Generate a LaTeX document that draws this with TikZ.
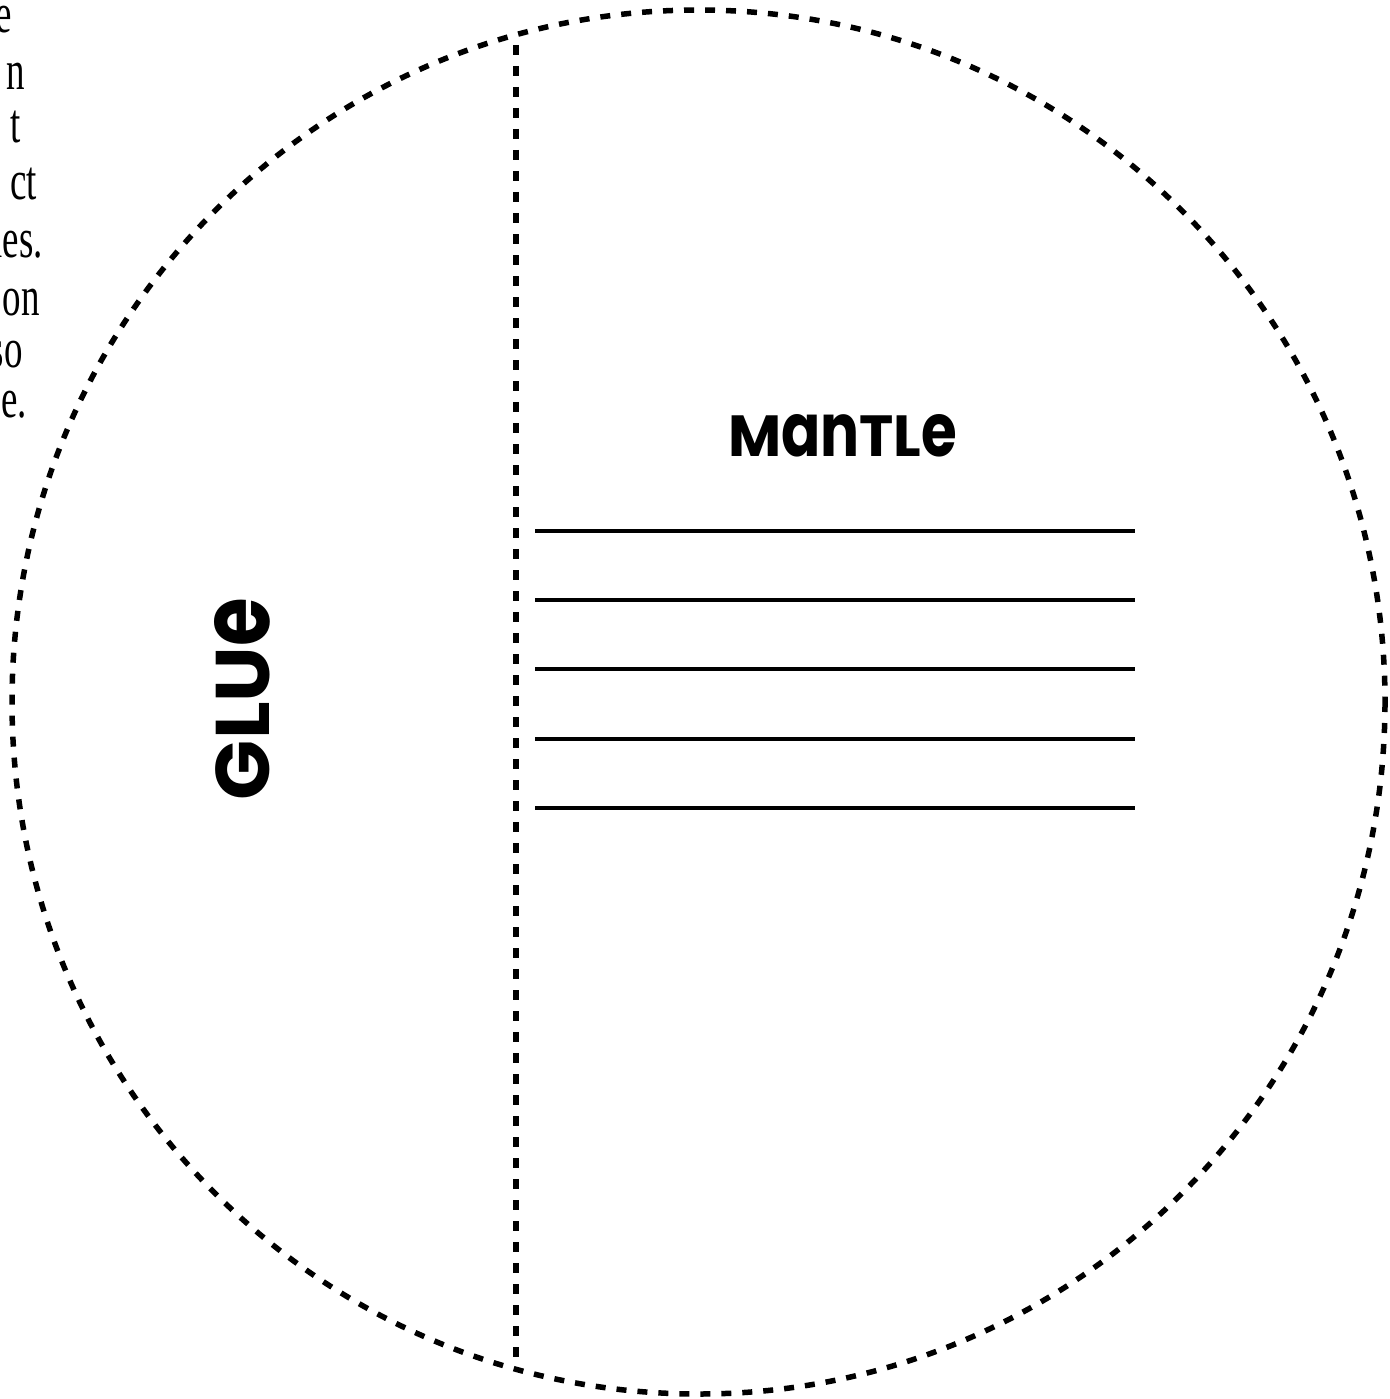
\documentclass[tikz,border=0pt]{standalone}
\usepackage{fontspec}
\setmainfont{Liberation Serif}
\newfontfamily\labfont{Poppins Bold}
\usepackage{graphicx}
\newcommand\lc[1]{\scalebox{1}[1.28]{#1}}
\newcommand\nar[1]{\scalebox{0.66}[1]{#1}}
\begin{document}
\begin{tikzpicture}[x=1pt,y=-1pt,
  cut/.style={line width=5.5pt, dash pattern=on 10pt off 11pt},
  rule/.style={line width=4pt},
  frag/.style={anchor=base east, inner sep=0pt, font=\fontsize{56}{56}\selectfont},
  big/.style={inner sep=0pt, font=\labfont}
]
\useasboundingbox (0,0) rectangle (1389,1399);
% outer circle
\coordinate (c) at (698.5,702);
\draw[cut] (c) ellipse [x radius=686.5, y radius=692];
% fold line
\coordinate (ftop) at (516,45);
\coordinate (fbot) at (516,1358);
\draw[cut] (ftop) -- (fbot);
% writing lines
\foreach \y/\n in {531/1,600/2,669/3,739/4,808/5}{
  \coordinate (l\n a) at (535,\y);
  \coordinate (l\n b) at (1135,\y);
  \draw[rule] (l\n a) -- (l\n b);
}
% labels
\node[big] (mantle) at (842.5,436) {\resizebox{229pt}{42pt}{\labfont M\lc{an}TL\lc{e}}};
\node[big, rotate=90] (glue) at (242,699) {\resizebox{202pt}{55pt}{\labfont GLU\lc{e}}};
% clipped instruction text at the left edge
\node[frag] (t1) at (12,33) {\nar{e}};
\node[frag] (t2) at (25,90) {\nar{n}};
\node[frag] (t3) at (21,143) {\nar{t}};
\node[frag] (t4) at (37,200) {\nar{ct}};
\node[frag] (t5) at (43,257) {\nar{les.}};
\node[frag] (t6) at (40,315) {\nar{on}};
\node[frag] (t7) at (23,367) {\nar{so}};
\node[frag] (t8) at (27,417) {\nar{le.}};
\end{tikzpicture}
\end{document}
